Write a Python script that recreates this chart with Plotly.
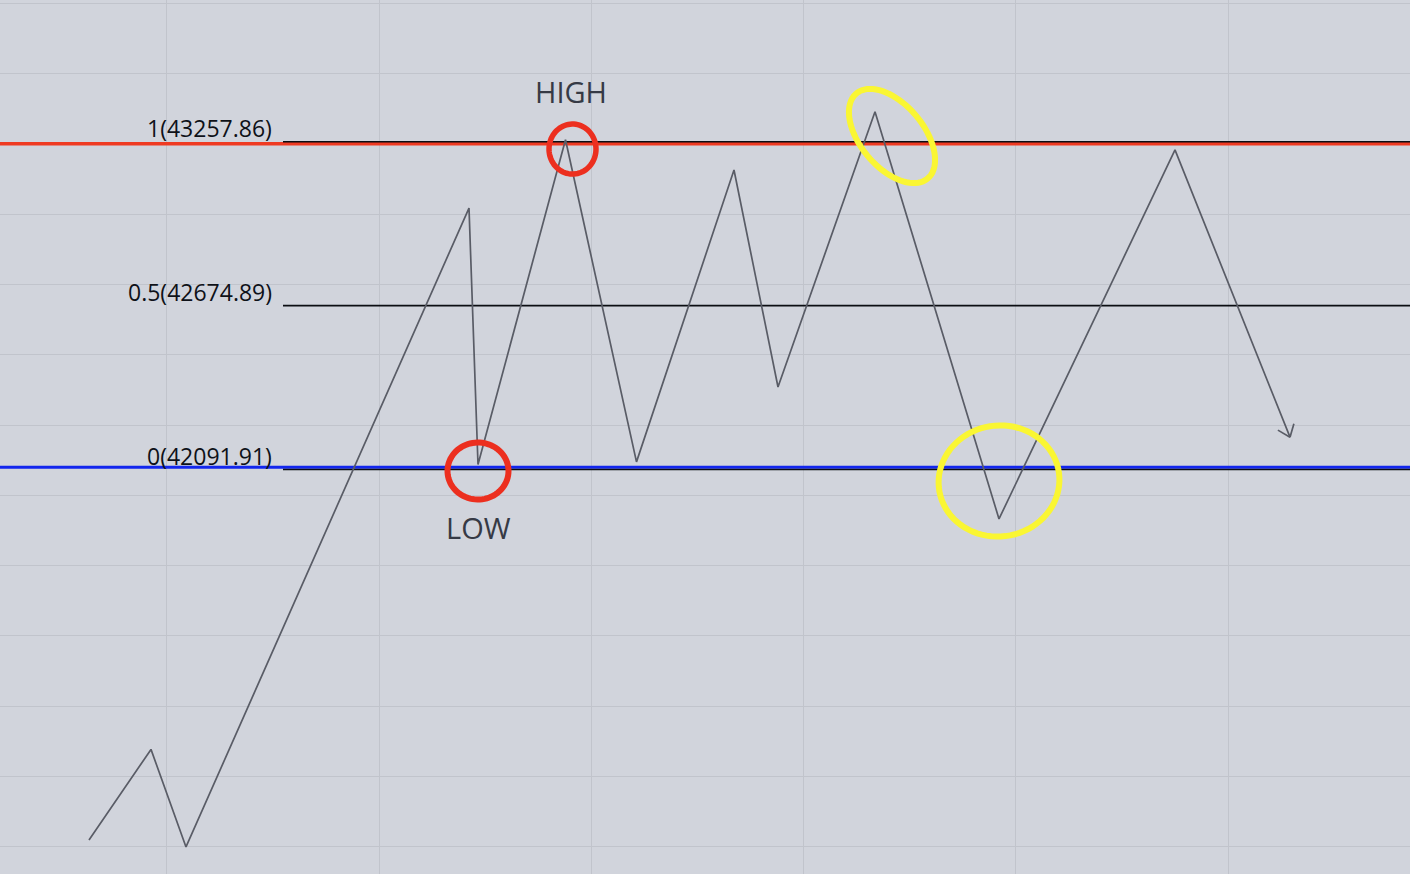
import numpy as np
import plotly.graph_objects as go

# ---------------- data ----------------
# price path (x = bar position, y = price)
path_x = [89, 151, 186, 469, 478, 565.5, 636.5, 734, 778, 875, 999, 1175, 1290]
path_y = [40773.7, 41096.0, 40749.0, 43022.0, 42110.0, 43265.0, 42119.0,
          43157.5, 42385.5, 43365.0, 41916.0, 43229.0, 42207.0]

# fibonacci levels
fib_ratio = ["1", "0.5", "0"]
fib_price = [43257.86, 42674.89, 42091.91]
fib_start = 283

# manually drawn horizontal lines
red_line_price = 43251.0
blue_line_price = 42099.5

# labels
swing_labels = ["HIGH", "LOW"]
swing_label_x = [570.5, 478.5]
swing_label_y = [43437.0, 41885.0]

# hand-drawn highlight ellipses: center x, center y (price), rx (x units), ry (px), tilt deg, color
ell_cx = [572.5, 478.0, 892.0, 999.0]
ell_cy = [43232.0, 42086.5, 43278.5, 42051.0]
ell_rx = [23.5, 30.5, 55.5, 60.5]
ell_ry = [25.0, 28.5, 31.5, 55.5]
ell_tilt = [0.0, 0.0, 50.0, -8.0]
ell_color = ["#ec2f1f", "#ec2f1f", "#faf633", "#faf633"]
ell_width = [5.5, 6, 6, 6]

# axes
x_range = [0, 1410]
y_range = [40652.7, 43762.4]
x_grid0, x_grid_step = 166.7, 212.3
y_grid_step = 250

W, H = 1410, 874
px_per_price = H / (y_range[1] - y_range[0])

BG = "#d1d4dc"
GRID = "#c1c4cc"

fig = go.Figure()

# red & blue user lines (full width)
fig.add_trace(go.Scatter(x=x_range, y=[red_line_price] * 2, mode="lines",
                         line=dict(color="#ef3a22", width=3.5), hoverinfo="skip"))
fig.add_trace(go.Scatter(x=x_range, y=[blue_line_price] * 2, mode="lines",
                         line=dict(color="#1226ee", width=3), hoverinfo="skip"))

# fib level lines
for p in fib_price:
    fig.add_trace(go.Scatter(x=[fib_start, x_range[1]], y=[p, p], mode="lines",
                             line=dict(color="#0b0d12", width=1.6), hoverinfo="skip"))

# price path
fig.add_trace(go.Scatter(x=path_x, y=path_y, mode="lines",
                         line=dict(color="#595c66", width=1.7), hoverinfo="skip"))

# arrowhead computed in pixel space from last segment
tx, ty = path_x[-1], path_y[-1] * px_per_price
bx, by = path_x[-2], path_y[-2] * px_per_price
v = np.array([bx - tx, -(by - ty)])
v = v / np.linalg.norm(v)
L = 14.0
for ang in (38, -38):
    a = np.radians(ang)
    rot = np.array([[np.cos(a), -np.sin(a)], [np.sin(a), np.cos(a)]])
    w = rot @ v * L
    wx = tx + w[0]
    wy = (ty - w[1]) / px_per_price
    fig.add_trace(go.Scatter(x=[path_x[-1], wx], y=[path_y[-1], wy], mode="lines",
                             line=dict(color="#595c66", width=1.7), hoverinfo="skip"))

# ellipses as svg paths
shapes = []
t = np.linspace(0, 2 * np.pi, 80)
for cx, cy, rx, ry, tilt, col, lw in zip(ell_cx, ell_cy, ell_rx, ell_ry, ell_tilt, ell_color, ell_width):
    a = np.radians(tilt)
    ex = rx * np.cos(t)
    ey = ry * np.sin(t)
    sx = ex * np.cos(a) - ey * np.sin(a)
    sy = ex * np.sin(a) + ey * np.cos(a)
    xs = cx + sx
    ys = cy - sy / px_per_price
    d = "M " + " L ".join(f"{x:.2f},{y:.2f}" for x, y in zip(xs, ys)) + " Z"
    shapes.append(dict(type="path", path=d, xref="x", yref="y",
                       line=dict(color=col, width=lw), layer="above"))

annotations = []
for r, p in zip(fib_ratio, fib_price):
    annotations.append(dict(x=274, y=p, xref="x", yref="y", text=f"{r}({p:.2f})",
                            showarrow=False, xanchor="right", yanchor="middle", yshift=14,
                            font=dict(family="Open Sans", size=23, color="#0e1118")))
for txt, x, y in zip(swing_labels, swing_label_x, swing_label_y):
    annotations.append(dict(x=x, y=y, xref="x", yref="y", text=txt, showarrow=False,
                            xanchor="center", yanchor="middle",
                            font=dict(family="Open Sans", size=29, color="#363a45")))

fig.update_layout(
    width=W, height=H,
    margin=dict(l=0, r=0, t=0, b=0),
    paper_bgcolor=BG, plot_bgcolor=BG,
    showlegend=False,
    shapes=shapes,
    annotations=annotations,
    xaxis=dict(range=x_range, showgrid=True, gridcolor=GRID, gridwidth=1,
               tick0=x_grid0, dtick=x_grid_step, showticklabels=False,
               zeroline=False, showline=False, fixedrange=True),
    yaxis=dict(range=y_range, showgrid=True, gridcolor=GRID, gridwidth=1,
               tick0=0, dtick=y_grid_step, showticklabels=False,
               zeroline=False, showline=False, fixedrange=True),
)

fig.write_html(
    "out.html",
    config=dict(displayModeBar=False),
    post_script="document.body.style.margin='0';document.body.style.padding='0';"
                "document.body.style.overflow='hidden';"
                "document.body.style.background='#d1d4dc';",
)
